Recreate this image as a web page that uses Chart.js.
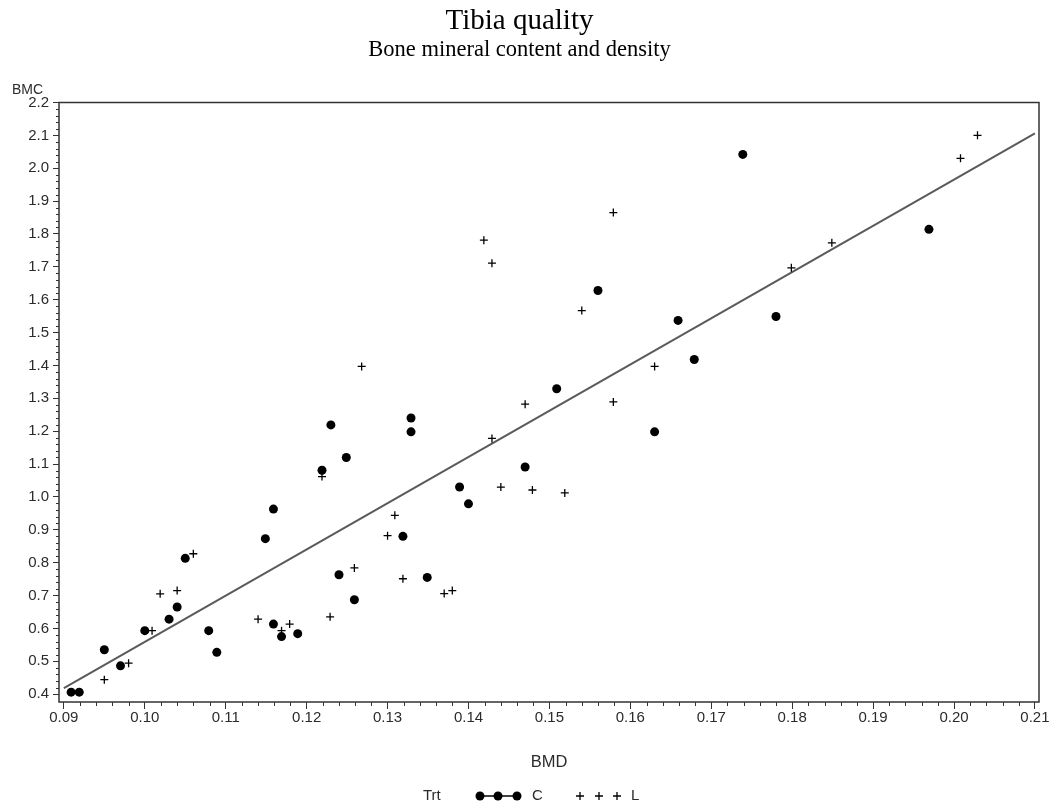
<!DOCTYPE html>
<html>
<head>
<meta charset="utf-8">
<title>Tibia quality</title>
<script src="https://cdn.jsdelivr.net/npm/chart.js@4.4.1/dist/chart.umd.min.js"></script>
<style>
  html, body { margin: 0; padding: 0; background: #fff; }
  canvas { display: block; }
</style>
</head>
<body>
<canvas id="chart" width="1051" height="808"></canvas>
<script>
// Trt = C
const cBmd = [0.0909, 0.0919, 0.0950, 0.0970, 0.1000, 0.1030, 0.1040, 0.1050, 0.1079, 0.1089,
              0.1149, 0.1159, 0.1159, 0.1169, 0.1189, 0.1219, 0.1230, 0.1240, 0.1249, 0.1259,
              0.1319, 0.1329, 0.1329, 0.1349, 0.1389, 0.1400, 0.1470, 0.1509, 0.1560, 0.1630,
              0.1659, 0.1679, 0.1739, 0.1780, 0.1969];
const cBmc = [0.406, 0.406, 0.535, 0.486, 0.593, 0.628, 0.665, 0.813, 0.593, 0.527,
              0.873, 0.963, 0.613, 0.575, 0.584, 1.081, 1.219, 0.763, 1.120, 0.687,
              0.880, 1.240, 1.198, 0.755, 1.030, 0.979, 1.091, 1.329, 1.628, 1.198,
              1.537, 1.418, 2.042, 1.549, 1.814];

// Trt = L
const lBmd = [0.0950, 0.0980, 0.1009, 0.1019, 0.1040, 0.1060, 0.1140, 0.1169, 0.1179, 0.1219,
              0.1229, 0.1259, 0.1268, 0.1300, 0.1309, 0.1319, 0.1370, 0.1380, 0.1419, 0.1429,
              0.1429, 0.1440, 0.1470, 0.1479, 0.1519, 0.1540, 0.1579, 0.1579, 0.1630, 0.1799,
              0.1849, 0.2008, 0.2029];
const lBmc = [0.444, 0.494, 0.593, 0.705, 0.715, 0.827, 0.628, 0.593, 0.613, 1.062,
              0.635, 0.784, 1.397, 0.882, 0.944, 0.751, 0.706, 0.715, 1.781, 1.711,
              1.178, 1.030, 1.282, 1.021, 1.012, 1.567, 1.865, 1.289, 1.397, 1.697,
              1.773, 2.030, 2.100];

// regression line (both groups)
const fitBmd = [0.09, 0.21];
const fitBmc = [0.418, 2.106];

// axis ticks
const xTicks = [0.09, 0.10, 0.11, 0.12, 0.13, 0.14, 0.15, 0.16, 0.17, 0.18, 0.19, 0.20, 0.21];
const yTicks = [0.4, 0.5, 0.6, 0.7, 0.8, 0.9, 1.0, 1.1, 1.2, 1.3, 1.4, 1.5, 1.6, 1.7, 1.8,
                1.9, 2.0, 2.1, 2.2];

const TEXT = '#2b2b2b';
const SANS = "'Liberation Sans', Arial, sans-serif";
const SERIF = "'Liberation Serif', 'Times New Roman', serif";

const toPoints = (xs, ys) => xs.map((v, i) => ({ x: v, y: ys[i] }));

// frame, minor ticks, BMC label and the Trt legend
const framePlugin = {
  id: 'frame',
  afterDraw(chart) {
    const { ctx, chartArea: a, scales: { x, y } } = chart;
    ctx.save();
    ctx.strokeStyle = '#333';
    ctx.lineWidth = 1;
    ctx.beginPath();
    for (let i = 0; i < xTicks.length - 1; i++) {
      for (let k = 1; k < 5; k++) {
        const px = Math.round(x.getPixelForValue(xTicks[i] + (xTicks[i + 1] - xTicks[i]) * k / 5)) + 0.5;
        ctx.moveTo(px, a.bottom);
        ctx.lineTo(px, a.bottom + 4);
      }
    }
    for (let i = 0; i < yTicks.length - 1; i++) {
      for (let k = 1; k < 5; k++) {
        const py = Math.round(y.getPixelForValue(yTicks[i] + (yTicks[i + 1] - yTicks[i]) * k / 5)) + 0.5;
        ctx.moveTo(a.left - 3, py);
        ctx.lineTo(a.left, py);
      }
    }
    ctx.stroke();

    ctx.lineWidth = 1.5;
    ctx.strokeRect(a.left, a.top, a.right - a.left, a.bottom - a.top);

    ctx.fillStyle = TEXT;
    ctx.font = '14px ' + SANS;
    ctx.textBaseline = 'middle';
    ctx.textAlign = 'left';
    ctx.fillText('BMC', 12, a.top - 12);

    // legend
    const ly = 796;
    ctx.font = '15px ' + SANS;
    ctx.fillText('Trt', 423, ly);
    ctx.fillText('C', 532, ly);
    ctx.fillText('L', 631, ly);
    ctx.fillStyle = '#000';
    ctx.strokeStyle = '#000';
    ctx.lineWidth = 1.3;
    ctx.beginPath();
    ctx.moveTo(480, ly);
    ctx.lineTo(517, ly);
    ctx.stroke();
    [480, 498, 517].forEach(cx => {
      ctx.beginPath();
      ctx.arc(cx, ly, 4.5, 0, Math.PI * 2);
      ctx.fill();
    });
    ctx.beginPath();
    [580, 599, 617].forEach(cx => {
      ctx.moveTo(cx - 4, ly);
      ctx.lineTo(cx + 4, ly);
      ctx.moveTo(cx, ly - 4);
      ctx.lineTo(cx, ly + 4);
    });
    ctx.stroke();
    ctx.restore();
  }
};

new Chart(document.getElementById('chart'), {
  type: 'scatter',
  data: {
    datasets: [
      {
        label: 'C',
        data: toPoints(cBmd, cBmc),
        pointStyle: 'circle',
        pointRadius: 4.5,
        backgroundColor: '#000',
        borderWidth: 0,
        order: 1
      },
      {
        label: 'L',
        data: toPoints(lBmd, lBmc),
        pointStyle: 'cross',
        pointRadius: 4,
        borderColor: '#000',
        borderWidth: 1.3,
        order: 2
      },
      {
        type: 'line',
        label: 'fit',
        data: toPoints(fitBmd, fitBmc),
        borderColor: '#5a5a5a',
        borderWidth: 2,
        pointRadius: 0,
        fill: false,
        order: 3
      }
    ]
  },
  options: {
    responsive: false,
    animation: false,
    layout: { padding: { left: 0, right: 12, top: 0, bottom: 28 } },
    plugins: {
      legend: { display: false },
      tooltip: { enabled: false },
      title: {
        display: true,
        text: 'Tibia quality',
        color: '#000',
        font: { family: SERIF, size: 29, weight: 'normal', lineHeight: 1 },
        padding: { top: 7, bottom: 0 }
      },
      subtitle: {
        display: true,
        text: 'Bone mineral content and density',
        color: '#000',
        font: { family: SERIF, size: 22.5, weight: 'normal', lineHeight: 1 },
        padding: { top: 3, bottom: 41 }
      }
    },
    scales: {
      x: {
        type: 'linear',
        min: 0.0894,
        max: 0.2105,
        afterBuildTicks: scale => { scale.ticks = xTicks.map(value => ({ value })); },
        afterFit: scale => { scale.height = 78; },
        grid: { drawOnChartArea: false, drawTicks: true, tickLength: 7, tickColor: '#333' },
        border: { display: false },
        ticks: {
          color: TEXT,
          font: { family: SANS, size: 15 },
          padding: 0,
          maxRotation: 0,
          autoSkip: false,
          callback: v => v.toFixed(2)
        },
        title: {
          display: true,
          text: 'BMD',
          color: TEXT,
          font: { family: SANS, size: 16.5 },
          padding: { top: 0, bottom: 7.5 }
        }
      },
      y: {
        type: 'linear',
        min: 0.376,
        max: 2.2,
        afterBuildTicks: scale => { scale.ticks = yTicks.map(value => ({ value })); },
        afterFit: scale => { scale.width = 59; },
        grid: { drawOnChartArea: false, drawTicks: true, tickLength: 6, tickColor: '#333' },
        border: { display: false },
        ticks: {
          color: TEXT,
          font: { family: SANS, size: 15 },
          padding: 4,
          autoSkip: false,
          callback: v => v.toFixed(1)
        }
      }
    }
  },
  plugins: [framePlugin]
});
</script>
</body>
</html>
